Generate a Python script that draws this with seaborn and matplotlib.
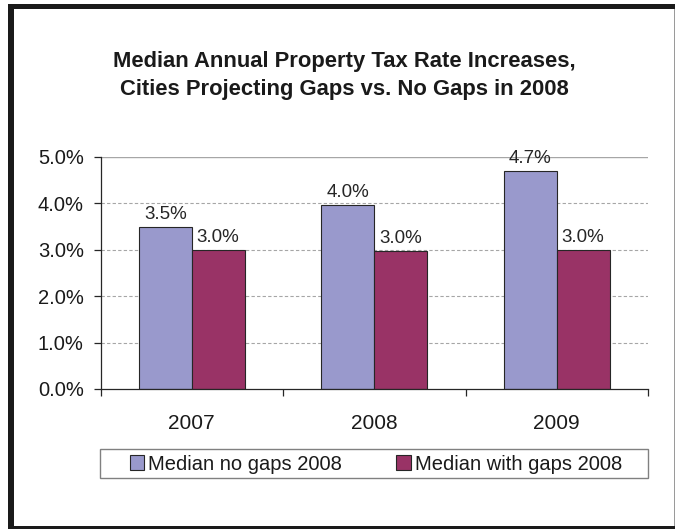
import matplotlib
matplotlib.use("Agg")
import matplotlib.pyplot as plt
import matplotlib.patches as mpatches
from matplotlib.ticker import FuncFormatter
import pandas as pd
import seaborn as sns

# Median annual property tax rate increases (%)
years = ["2007", "2008", "2009"]
no_gaps = [3.49, 3.96, 4.69]
with_gaps = [3.00, 2.97, 2.99]
series_names = ["Median no gaps 2008", "Median with gaps 2008"]
y_ticks = [0, 1, 2, 3, 4, 5]
title_lines = ["Median Annual Property Tax Rate Increases,",
               "Cities Projecting Gaps vs. No Gaps in 2008"]

df = pd.DataFrame({
    "year": years * 2,
    "rate": no_gaps + with_gaps,
    "series": [series_names[0]] * len(years) + [series_names[1]] * len(years),
})

sns.set_theme(style="white")
plt.rcParams["font.family"] = ["Liberation Sans", "DejaVu Sans"]

W, H = 676, 529
fig = plt.figure(figsize=(W / 100, H / 100), dpi=100)
fig.patch.set_facecolor("white")


def fig_rect(x0, y0, x1, y1):
    """Convert a pixel box (top-left origin) to figure fractions."""
    return [x0 / W, 1 - y1 / H, (x1 - x0) / W, (y1 - y0) / H]


ax = fig.add_axes(fig_rect(100.5, 157, 648, 389))

colors = ["#9999CC", "#993366"]
palette = dict(zip(series_names, colors))
sns.barplot(data=df, x="year", y="rate", hue="series", palette=palette,
            width=0.58, gap=0, saturation=1, edgecolor="#262626",
            linewidth=0.8, legend=False, ax=ax, zorder=2)

# value labels above bars
for cont in ax.containers:
    ax.bar_label(cont, fmt="%.1f%%", padding=3, fontsize=13.5, color="#262626")

# axes ranges and gridlines
ax.set_xlim(-0.5, len(years) - 0.5)
ax.set_ylim(y_ticks[0], y_ticks[-1])
for v in y_ticks[1:-1]:
    ax.axhline(v, color="#A6A6A6", lw=0.8, ls=(0, (3, 2)), zorder=0.5)
ax.axhline(y_ticks[-1], color="#A6A6A6", lw=1.0, zorder=0.5)

for side in ("top", "right"):
    ax.spines[side].set_visible(False)
for side in ("left", "bottom"):
    ax.spines[side].set_color("#262626")
    ax.spines[side].set_linewidth(0.9)

ax.set_yticks(y_ticks)
ax.yaxis.set_major_formatter(FuncFormatter(lambda v, _: f"{v:.1f}%"))
ax.tick_params(axis="y", direction="out", length=5, width=0.9,
               color="#262626", pad=7, labelsize=14.5, labelcolor="#1a1a1a",
               left=True)

ax.set_xticks(range(len(years)))
ax.set_xticklabels(years)
ax.set_xticks([i - 0.5 for i in range(len(years) + 1)], minor=True)
ax.tick_params(axis="x", which="major", length=0, pad=18, labelsize=15,
               labelcolor="#1a1a1a")
ax.tick_params(axis="x", which="minor", direction="out", length=5,
               width=0.9, color="#262626", bottom=True)
ax.set_xlabel("")
ax.set_ylabel("")

# title
fig.text(344 / W, 1 - 67 / H, title_lines[0], ha="center", va="baseline",
         fontsize=15.8, fontweight="bold", color="#1a1a1a")
fig.text(344 / W, 1 - 95 / H, title_lines[1], ha="center", va="baseline",
         fontsize=15.8, fontweight="bold", color="#1a1a1a")

# legend with its own box
handles = [mpatches.Patch(facecolor=c, edgecolor="#262626", lw=0.8)
           for c in colors]
fig.legend(handles, series_names, loc="center",
           bbox_to_anchor=(376 / W, 1 - 464 / H), ncol=2, frameon=False,
           fontsize=14.5, handlelength=0.7, handleheight=0.7,
           handletextpad=0.2, columnspacing=2.7, labelcolor="#1a1a1a")
fig.add_artist(mpatches.Rectangle((100 / W, 1 - 478 / H), 548 / W, 29 / H,
                                  transform=fig.transFigure, fill=False,
                                  edgecolor="#808080", lw=1.0))

# outer chart frame
for box, col in [((8, 4, 14, 529), "#1a1a1a"),
                 ((8, 4, 675, 9), "#1a1a1a"),
                 ((8, 526, 675, 529), "#1a1a1a"),
                 ((673.5, 9, 675, 526), "#9a9a9a")]:
    x0, y0, w, h = fig_rect(*box)
    fig.add_artist(mpatches.Rectangle((x0, y0), w, h, transform=fig.transFigure,
                                      facecolor=col, edgecolor="none"))

fig.savefig("out.png", dpi=100, facecolor="white")
